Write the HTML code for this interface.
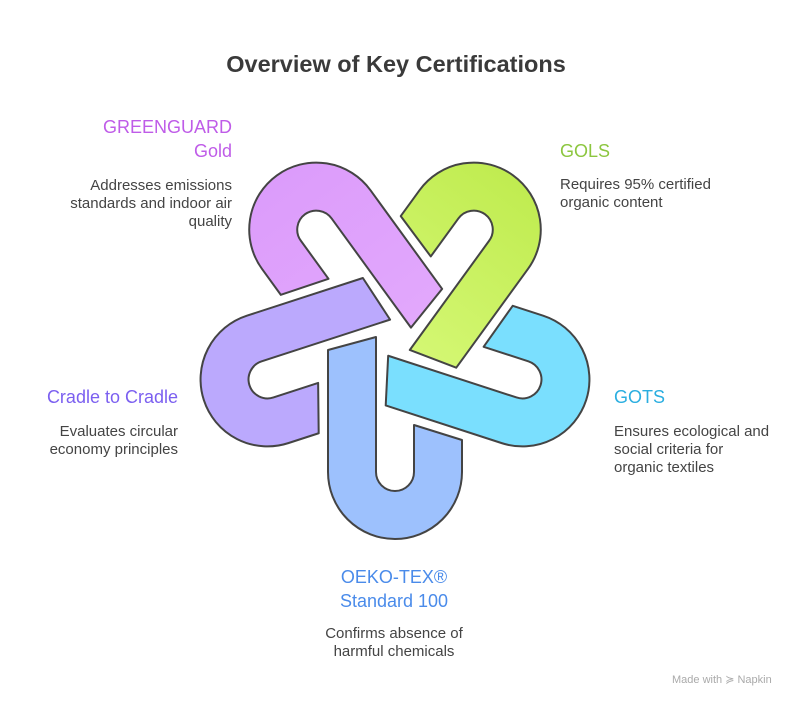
<!DOCTYPE html>
<html><head><meta charset="utf-8"><style>
body{margin:0;width:804px;height:708px;background:#fff;position:relative;font-family:"Liberation Sans",sans-serif;overflow:hidden}
.t{position:absolute;white-space:nowrap}
.h{font-size:18px;line-height:24px}
.d{font-size:15px;line-height:18px;color:#444}
.r{text-align:right}
.c{text-align:center}
</style></head><body>
<div class="t c" style="left:0;width:792px;top:51px;font-size:23.5px;font-weight:bold;color:#3a3a3a">Overview of Key Certifications</div>

<svg width="804" height="708" style="position:absolute;left:0;top:0">
<defs>
<linearGradient id="gg" x1="0" y1="0" x2="0" y2="1"><stop offset="0" stop-color="#d4f773"/><stop offset="1" stop-color="#c0ec50"/></linearGradient>
<linearGradient id="pg" x1="0" y1="0" x2="0" y2="1"><stop offset="0" stop-color="#e2a8fc"/><stop offset="1" stop-color="#dc9cfb"/></linearGradient>
<path id="u" d="M -67,-122 L -19,-135 L -19,0 A 19 19 0 0 0 19,0 L 19,-47 L 67,-32 L 67,0 A 67 67 0 0 1 -67,0 Z"/>
</defs>
<g stroke="#444" stroke-width="2" stroke-linejoin="round">
<use href="#u" fill="#9dc1fd" transform="translate(395,338) rotate(0) translate(0,134)"/>
<use href="#u" fill="#7adffe" transform="translate(395,338) rotate(-72) translate(0,134)"/>
<use href="#u" fill="url(#gg)" transform="translate(395,338) rotate(-144) translate(0,134)"/>
<use href="#u" fill="url(#pg)" transform="translate(395,338) rotate(144) translate(0,134)"/>
<use href="#u" fill="#bba9fd" transform="translate(395,338) rotate(72) translate(0,134)"/>
</g>
</svg>

<div class="t h r" style="right:572px;top:115px;color:#bf5ce8">GREENGUARD<br>Gold</div>
<div class="t d r" style="right:572px;top:177px">Addresses emissions<br>standards and indoor air<br>quality</div>

<div class="t h" style="left:560px;top:139px;color:#8cc63f">GOLS</div>
<div class="t d" style="left:560px;top:176px">Requires 95% certified<br>organic content</div>

<div class="t h" style="left:614px;top:385px;color:#2aaee0">GOTS</div>
<div class="t d" style="left:614px;top:423px">Ensures ecological and<br>social criteria for<br>organic textiles</div>

<div class="t h r" style="right:626px;top:385px;color:#7b5ff0">Cradle to Cradle</div>
<div class="t d r" style="right:626px;top:423px">Evaluates circular<br>economy principles</div>

<div class="t h c" style="left:294px;width:200px;top:565px;color:#4a8bea">OEKO-TEX®<br>Standard 100</div>
<div class="t d c" style="left:294px;width:200px;top:625px">Confirms absence of<br>harmful chemicals</div>

<div class="t" style="left:672px;top:673px;font-size:11px;color:#aaa">Made with ≽ Napkin</div>
</body></html>
